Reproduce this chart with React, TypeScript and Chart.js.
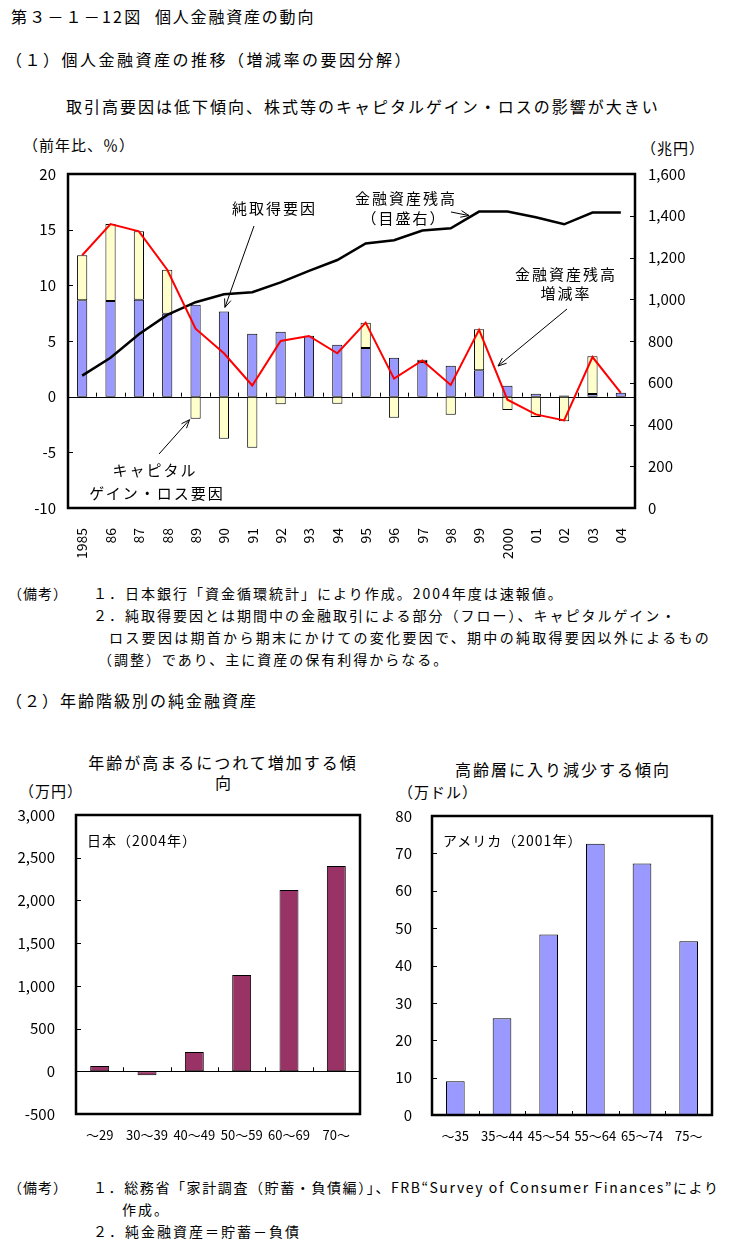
import React, { useEffect, useRef } from "react";
import { Chart, registerables } from "chart.js";

Chart.register(...registerables);

const FONT = '"Noto Sans CJK JP", "Noto Sans", sans-serif';

// ---- (1) 個人金融資産の推移 ----
const years = ["1985", "86", "87", "88", "89", "90", "91", "92", "93", "94", "95", "96", "97", "98", "99", "2000", "01", "02", "03", "04"];
const netAcquisition = [8.65, 8.6, 8.7, 7.45, 8.25, 7.66, 5.66, 5.84, 5.48, 4.67, 4.37, 3.5, 3.11, 2.78, 2.37, 0.99, 0.27, 0.1, 0.24, 0.35];
const capitalGainLoss = [4.05, 6.9, 6.15, 3.95, -1.98, -3.77, -4.58, -0.69, 0, -0.63, 2.28, -1.89, 0.21, -1.62, 3.68, -1.2, -1.83, -2.2, 3.38, 0];
const assetGrowthRate = [12.7, 15.5, 14.85, 11.4, 6.1, 3.9, 1.0, 5.0, 5.45, 3.9, 6.65, 1.62, 3.26, 1.05, 6.0, -0.27, -1.59, -2.13, 3.56, 0.33];
const assetBalance = [634, 720, 832, 925, 986, 1024, 1034, 1081, 1136, 1188, 1267, 1283, 1329, 1340, 1420, 1420, 1393, 1359, 1415, 1415];
const leftTicks = [-10, -5, 0, 5, 10, 15, 20];
const rightTicks = [0, 200, 400, 600, 800, 1000, 1200, 1400, 1600];

// ---- (2) 年齢階級別の純金融資産 ----
const jpAges = ["～29", "30～39", "40～49", "50～59", "60～69", "70～"];
const jpValues = [62, -47, 226, 1128, 2123, 2404];
const jpTicks = [-500, 0, 500, 1000, 1500, 2000, 2500, 3000];
const usAges = ["～35", "35～44", "45～54", "55～64", "65～74", "75～"];
const usValues = [9.0, 25.9, 48.3, 72.6, 67.3, 46.5];
const usTicks = [0, 10, 20, 30, 40, 50, 60, 70, 80];

function drawArrow(ctx: CanvasRenderingContext2D, x1: number, y1: number, x2: number, y2: number) {
  ctx.beginPath();
  ctx.moveTo(x1, y1);
  ctx.lineTo(x2, y2);
  ctx.stroke();
  const ang = Math.atan2(y2 - y1, x2 - x1);
  const L = 9, sp = 0.38;
  ctx.beginPath();
  ctx.moveTo(x2 - L * Math.cos(ang - sp), y2 - L * Math.sin(ang - sp));
  ctx.lineTo(x2, y2);
  ctx.lineTo(x2 - L * Math.cos(ang + sp), y2 - L * Math.sin(ang + sp));
  ctx.stroke();
}

function makeDeco(valueAxis: string, tickAxes: string[], arrows?: (c: any) => number[][]) {
  return {
    id: "deco",
    beforeDatasetsDraw(chart: any) {
      const { ctx, chartArea: a } = chart;
      const z = chart.scales[valueAxis].getPixelForValue(0);
      if (z > a.top + 1 && z < a.bottom - 1) {
        ctx.save();
        ctx.strokeStyle = "#000";
        ctx.lineWidth = 1;
        ctx.beginPath();
        ctx.moveTo(a.left, Math.round(z) + 0.5);
        ctx.lineTo(a.right, Math.round(z) + 0.5);
        ctx.stroke();
        ctx.restore();
      }
    },
    afterDatasetsDraw(chart: any) {
      const { ctx, chartArea: a } = chart;
      ctx.save();
      ctx.strokeStyle = "#000";
      ctx.lineWidth = 1;
      for (const id of tickAxes) {
        const s = chart.scales[id];
        const isLeft = s.position === "left";
        for (const t of s.ticks) {
          const y = Math.round(s.getPixelForValue(t.value)) + 0.5;
          if (y <= a.top + 2 || y >= a.bottom - 2) continue;
          ctx.beginPath();
          if (isLeft) {
            ctx.moveTo(a.left, y);
            ctx.lineTo(a.left + 5, y);
          } else {
            ctx.moveTo(a.right, y);
            ctx.lineTo(a.right - 5, y);
          }
          ctx.stroke();
        }
      }
      const xs = chart.scales.x;
      const z = chart.scales[valueAxis].getPixelForValue(0);
      const n = xs.ticks.length;
      const w = (a.right - a.left) / n;
      for (let i = 1; i < n; i++) {
        const x = Math.round(a.left + i * w) + 0.5;
        ctx.beginPath();
        ctx.moveTo(x, z);
        ctx.lineTo(x, z - 4);
        ctx.stroke();
      }
      ctx.lineWidth = 2.5;
      ctx.strokeRect(a.left, a.top, a.right - a.left, a.bottom - a.top);
      if (arrows) {
        ctx.lineWidth = 1;
        for (const ar of arrows(chart)) drawArrow(ctx, ar[0], ar[1], ar[2], ar[3]);
      }
      ctx.restore();
    },
  };
}

const tickFont = (size: number) => ({ family: FONT, size });

function fixBox(dim: "width" | "height", v: number) {
  return (s: any) => {
    s[dim] = v;
    s.paddingTop = 0;
    s.paddingBottom = 0;
    s.paddingLeft = 0;
    s.paddingRight = 0;
  };
}

function buildTop(): any {
  return {
    type: "bar",
    data: {
      labels: years,
      datasets: [
        { type: "line", label: "金融資産残高増減率", data: assetGrowthRate, borderColor: "#ff0000", borderWidth: 2, pointRadius: 0, yAxisID: "y", stack: "rate", order: 0, tension: 0 },
        { type: "line", label: "金融資産残高", data: assetBalance, borderColor: "#000000", borderWidth: 2.5, pointRadius: 0, yAxisID: "y2", order: 1, tension: 0 },
        { type: "bar", label: "純取得要因", data: netAcquisition, backgroundColor: "#9999ff", borderColor: "#000", borderWidth: 1, borderSkipped: false, yAxisID: "y", stack: "f", order: 2, barPercentage: 0.36, categoryPercentage: 1 },
        { type: "bar", label: "キャピタルゲイン・ロス要因", data: capitalGainLoss, backgroundColor: "#ffffcc", borderColor: "#000", borderWidth: 1, borderSkipped: false, yAxisID: "y", stack: "f", order: 2, barPercentage: 0.36, categoryPercentage: 1 },
      ],
    },
    options: {
      responsive: false,
      animation: false,
      layout: { padding: { top: 9, left: 0, right: 0, bottom: 0 } },
      plugins: { legend: { display: false }, tooltip: { enabled: false } },
      scales: {
        x: {
          stacked: true,
          grid: { display: false },
          border: { display: false },
          ticks: { color: "#000", font: tickFont(14), minRotation: 90, maxRotation: 90, autoSkip: false, padding: 12 },
          afterFit: fixBox("height", 57),
        },
        y: {
          position: "left",
          stacked: true,
          min: -10,
          max: 20,
          grid: { display: false, drawTicks: false },
          border: { display: false },
          ticks: { color: "#000", font: tickFont(15), padding: 12 },
          afterBuildTicks: (s: any) => { s.ticks = leftTicks.map((v) => ({ value: v })); },
          afterFit: fixBox("width", 48),
        },
        y2: {
          position: "right",
          min: 0,
          max: 1600,
          grid: { display: false, drawTicks: false },
          border: { display: false },
          ticks: { color: "#000", font: tickFont(15), padding: 13 },
          afterBuildTicks: (s: any) => { s.ticks = rightTicks.map((v) => ({ value: v })); },
          afterFit: fixBox("width", 75),
        },
      },
    },
    plugins: [
      makeDeco("y", ["y", "y2"], (c: any) => {
        const xs = c.scales.x, yl = c.scales.y, yr = c.scales.y2;
        return [
          [234, 61, xs.getPixelForValue(5) + 1, yl.getPixelForValue(netAcquisition[5]) - 4],
          [139, 289, xs.getPixelForValue(4) - 6, yl.getPixelForValue(capitalGainLoss[4]) + 1],
          [431, 47, xs.getPixelForValue(14) - 10, yr.getPixelForValue(assetBalance[14]) + 4],
          [547, 144, 478, 201],
        ];
      }),
    ],
  };
}

function buildAge(labels: string[], values: number[], ticks: number[], color: string, min: number, max: number, yWidth: number, padRight: number, xHeight: number, yPad: number): any {
  return {
    type: "bar",
    data: {
      labels,
      datasets: [
        { label: "純金融資産", data: values, backgroundColor: color, borderColor: "#000", borderWidth: 1, borderSkipped: false, barPercentage: 0.4, categoryPercentage: 1 },
      ],
    },
    options: {
      responsive: false,
      animation: false,
      layout: { padding: { top: 10, left: 0, right: padRight, bottom: 0 } },
      plugins: { legend: { display: false }, tooltip: { enabled: false } },
      scales: {
        x: {
          grid: { display: false },
          border: { display: false },
          ticks: { color: "#000", font: tickFont(13), maxRotation: 0, minRotation: 0, autoSkip: false, padding: 5 },
          afterFit: fixBox("height", xHeight),
        },
        y: {
          min,
          max,
          grid: { display: false, drawTicks: false },
          border: { display: false },
          ticks: { color: "#000", font: tickFont(15), padding: yPad },
          afterBuildTicks: (s: any) => { s.ticks = ticks.map((v) => ({ value: v })); },
          afterFit: fixBox("width", yWidth),
        },
      },
    },
    plugins: [makeDeco("y", ["y"])],
  };
}

function ChartBox({ left, top, width, height, build }: { left: number; top: number; width: number; height: number; build: () => any }) {
  const ref = useRef<HTMLCanvasElement>(null);
  useEffect(() => {
    const chart = new Chart(ref.current as HTMLCanvasElement, build());
    return () => chart.destroy();
  }, []);
  return (
    <div style={{ position: "absolute", left, top, width, height }}>
      <canvas ref={ref} width={width} height={height} style={{ width, height, display: "block" }} />
    </div>
  );
}

function T({ x, y, s = 14, ls = 0, children, center = false, w = 0 }: { x: number; y: number; s?: number; ls?: number; children: any; center?: boolean; w?: number }) {
  const style: any = {
    position: "absolute",
    top: y - s * 0.75,
    left: x,
    fontSize: s,
    lineHeight: `${s * 1.5}px`,
    letterSpacing: ls,
    whiteSpace: "nowrap",
    fontFamily: FONT,
    color: "#000",
  };
  if (center) {
    style.left = x - w / 2;
    style.width = w;
    style.textAlign = "center";
  }
  return <div style={style}>{children}</div>;
}

export default function App() {
  return (
    <div style={{ position: "absolute", left: 0, top: 0, width: 734, height: 1246, background: "#fff", overflow: "hidden" }}>
      <T x={11} y={16} s={16} ls={2.2}>第３－１－12図</T>
      <T x={155} y={16} s={16} ls={1.8}>個人金融資産の動向</T>
      <T x={6} y={59} s={16} ls={2.5}>（１）個人金融資産の推移（増減率の要因分解）</T>
      <T x={66} y={106} s={16} ls={2}>取引高要因は低下傾向、株式等のキャピタルゲイン・ロスの影響が大きい</T>
      <T x={23} y={145} s={15} ls={1}>（前年比、％）</T>
      <T x={641} y={148} s={15} ls={1}>（兆円）</T>

      <ChartBox left={20} top={165} width={690} height={400} build={buildTop} />

      <T x={232} y={208} s={15} ls={2}>純取得要因</T>
      <T x={155} y={470} s={15} ls={2} center w={160}>キャピタル</T>
      <T x={157} y={493} s={15} ls={2} center w={180}>ゲイン・ロス要因</T>
      <T x={406} y={198} s={15} ls={2} center w={140}>金融資産残高</T>
      <T x={404} y={218} s={15} ls={2} center w={120}>（目盛右）</T>
      <T x={566} y={274} s={15} ls={2} center w={140}>金融資産残高</T>
      <T x={566} y={293} s={15} ls={2} center w={100}>増減率</T>

      <T x={8} y={593} s={14} ls={1}>（備考）</T>
      <T x={93} y={593} s={14} ls={2}>１．日本銀行「資金循環統計」により作成。2004年度は速報値。</T>
      <T x={93} y={615} s={14} ls={2}>２．純取得要因とは期間中の金融取引による部分（フロー）、キャピタルゲイン・</T>
      <T x={109} y={637} s={14} ls={2.3}>ロス要因は期首から期末にかけての変化要因で、期中の純取得要因以外によるもの</T>
      <T x={98} y={659} s={14} ls={2}>（調整）であり、主に資産の保有利得からなる。</T>

      <T x={6} y={700} s={16} ls={2}>（２）年齢階級別の純金融資産</T>

      <T x={223} y={762} s={16} ls={2} center w={300}>年齢が高まるにつれて増加する傾</T>
      <T x={223} y={782} s={16} ls={0} center w={40}>向</T>
      <T x={19} y={791} s={15} ls={1}>（万円）</T>
      <ChartBox left={10} top={805} width={360} height={345} build={() => buildAge(jpAges, jpValues, jpTicks, "#993366", -500, 3000, 66, 10, 36, 21)} />
      <T x={87} y={840} s={14} ls={1}>日本（2004年）</T>

      <T x={563} y={769} s={16} ls={2} center w={260}>高齢層に入り減少する傾向</T>
      <T x={398} y={792} s={15} ls={1}>（万ドル）</T>
      <ChartBox left={380} top={806} width={344} height={344} build={() => buildAge(usAges, usValues, usTicks, "#9999ff", 0, 80, 52, 12, 35, 20)} />
      <T x={443} y={840} s={14} ls={1}>アメリカ（2001年）</T>

      <T x={8} y={1187} s={14} ls={1}>（備考）</T>
      <T x={93} y={1187} s={14} ls={1.6}>１．総務省「家計調査（貯蓄・負債編）」、FRB“Survey of Consumer Finances”により</T>
      <T x={122} y={1209} s={14} ls={2}>作成。</T>
      <T x={93} y={1231} s={14} ls={2}>２．純金融資産＝貯蓄－負債</T>
    </div>
  );
}
